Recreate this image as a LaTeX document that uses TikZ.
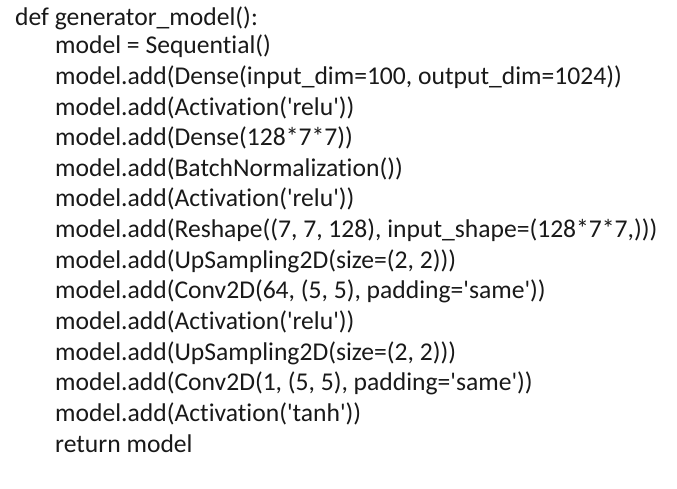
\documentclass[tikz,border=0pt]{standalone}
\usepackage{fontspec}
\setmainfont[Ligatures={NoCommon}]{Carlito}
\newcommand\sq{\textquotesingle}
\begin{document}
\begin{tikzpicture}[x=1pt,y=-1pt,
  codeline/.style={anchor=base west,inner sep=0pt,font=\fontsize{25.6}{30}\selectfont,text=black!90}]
\useasboundingbox (0,0) rectangle (677,489);
\fill[white] (0,0) rectangle (677,489);
\node[codeline] (l1) at (15,26) {def generator\_model():};
\node[codeline] (l2) at (55,54) {model = Sequential()};
\node[codeline] (l3) at (55,84.6) {model.add(Dense(input\_dim=100, output\_dim=1024))};
\node[codeline] (l4) at (55,115.2) {model.add(Activation(\sq relu\sq))};
\node[codeline] (l5) at (55,145.8) {model.add(Dense(128*7*7))};
\node[codeline] (l6) at (55,176.4) {model.add(BatchNormalization())};
\node[codeline] (l7) at (55,207) {model.add(Activation(\sq relu\sq))};
\node[codeline] (l8) at (55,237.6) {model.add(Reshape((7, 7, 128), input\_shape=(128*7*7,)))};
\node[codeline] (l9) at (55,268.2) {model.add(UpSampling2D(size=(2, 2)))};
\node[codeline] (l10) at (55,298.8) {model.add(Conv2D(64, (5, 5), padding=\sq same\sq))};
\node[codeline] (l11) at (55,329.4) {model.add(Activation(\sq relu\sq))};
\node[codeline] (l12) at (55,360) {model.add(UpSampling2D(size=(2, 2)))};
\node[codeline] (l13) at (55,390.6) {model.add(Conv2D(1, (5, 5), padding=\sq same\sq))};
\node[codeline] (l14) at (55,421.2) {model.add(Activation(\sq tanh\sq))};
\node[codeline] (l15) at (55,452) {return model};
\end{tikzpicture}
\end{document}
